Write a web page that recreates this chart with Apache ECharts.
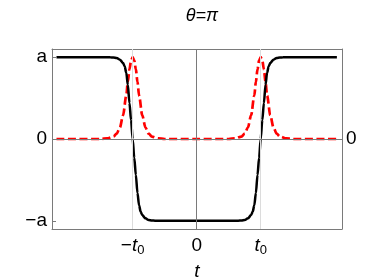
<!DOCTYPE html>
<html>
<head>
<meta charset="utf-8">
<script src="https://cdn.jsdelivr.net/npm/echarts@6/dist/echarts.min.js"></script>
<style>html,body{margin:0;padding:0;background:#fff}#c{width:382px;height:280px}</style>
</head>
<body>
<div id="c"></div>
<script>
// time samples (units of t0) and values (units of a)
var tBlack = [-2.19, -1.6, -1.35, -1.3, -1.25, -1.2, -1.15, -1.125, -1.1, -1.075, -1.05, -1.025, -1.0, -0.975, -0.95, -0.925, -0.9, -0.875, -0.85, -0.8, -0.75, -0.7, -0.65, -0.4, 0,
              0.4, 0.65, 0.7, 0.75, 0.8, 0.85, 0.875, 0.9, 0.925, 0.95, 0.975, 1.0, 1.025, 1.05, 1.075, 1.1, 1.125, 1.15, 1.2, 1.25, 1.3, 1.35, 1.6, 2.19];
var vBlack = [1, 1, 0.999, 0.996, 0.99, 0.97, 0.93, 0.89, 0.81, 0.66, 0.44, 0.23, 0, -0.23, -0.44, -0.66, -0.81, -0.89, -0.93, -0.97, -0.99, -0.996, -0.999, -1, -1,
              -1, -0.999, -0.996, -0.99, -0.97, -0.93, -0.89, -0.81, -0.66, -0.44, -0.23, 0, 0.23, 0.44, 0.66, 0.81, 0.89, 0.93, 0.97, 0.99, 0.996, 0.999, 1, 1];
var tRed = [-2.19, -1.5, -1.4, -1.3, -1.25, -1.2, -1.15, -1.1, -1.075, -1.05, -1.025, -1.0, -0.975, -0.95, -0.925, -0.9, -0.85, -0.8, -0.75, -0.7, -0.6, -0.5, 0,
            0.5, 0.6, 0.7, 0.75, 0.8, 0.85, 0.9, 0.925, 0.95, 0.975, 1.0, 1.025, 1.05, 1.075, 1.1, 1.15, 1.2, 1.25, 1.3, 1.4, 1.5, 2.19];
var vRed = [0, 0, 0.007, 0.03, 0.065, 0.14, 0.29, 0.53, 0.7, 0.85, 0.96, 1, 0.96, 0.85, 0.7, 0.53, 0.29, 0.14, 0.065, 0.03, 0.007, 0, 0,
            0, 0.007, 0.03, 0.065, 0.14, 0.29, 0.53, 0.7, 0.85, 0.96, 1, 0.96, 0.85, 0.7, 0.53, 0.29, 0.14, 0.065, 0.03, 0.007, 0, 0];
var xTicks = [-1, 0, 1];
var xTickLabels = ['{m|−}{i|t}{s|0}', '{n|0}', '{i|t}{s|0}'];
var yTicks = [-1, 0, 1];
var yTickLabels = ['−a', '0', 'a'];
var titleText = 'θ=π';
var xName = 't';

function pairs(t, v) { return t.map(function (x, i) { return [x, v[i]]; }); }

var FONT = 'Liberation Sans';
var frameColor = '#7a7a7a';
var chart = echarts.init(document.getElementById('c'), null, {renderer: 'canvas'});
chart.setOption({
  animation: false,
  title: {
    text: titleText, left: 197, top: 2, textAlign: 'center',
    textStyle: {fontFamily: FONT, fontSize: 18, fontStyle: 'italic', fontWeight: 'normal', color: '#000'}
  },
  grid: {left: 52, right: 40, top: 49, bottom: 51, containLabel: false, outerBoundsMode: 'none'},
  xAxis: [{
    type: 'value', position: 'bottom', min: -2.26, max: 2.27,
    axisLine: {show: true, onZero: false, lineStyle: {color: frameColor, width: 1}},
    axisTick: {show: true, inside: true, length: 4, customValues: xTicks, lineStyle: {color: frameColor}},
    splitLine: {show: false},
    axisLabel: {
      customValues: xTicks, margin: 6,
      formatter: function (v) { return xTickLabels[xTicks.indexOf(Math.round(v))]; },
      rich: {
        m: {fontFamily: FONT, fontSize: 19, color: '#000', lineHeight: 22},
        n: {fontFamily: FONT, fontSize: 19, color: '#000', lineHeight: 22},
        i: {fontFamily: FONT, fontSize: 19, fontStyle: 'italic', color: '#000', lineHeight: 22},
        s: {fontFamily: FONT, fontSize: 13, color: '#000', lineHeight: 13, verticalAlign: 'bottom'}
      }
    },
    name: xName, nameLocation: 'middle', nameGap: 30,
    nameTextStyle: {fontFamily: FONT, fontSize: 19, fontStyle: 'italic', color: '#000'}
  }, {
    type: 'value', position: 'top', min: -2.26, max: 2.27,
    axisLine: {show: true, onZero: false, lineStyle: {color: frameColor, width: 1}},
    axisTick: {show: false}, axisLabel: {show: false}, splitLine: {show: false}
  }],
  yAxis: [{
    type: 'value', position: 'left', min: -1.1, max: 1.1,
    axisLine: {show: true, onZero: false, lineStyle: {color: frameColor, width: 1}},
    axisTick: {show: true, inside: true, length: 4, customValues: yTicks, lineStyle: {color: frameColor}},
    splitLine: {show: false},
    axisLabel: {
      customValues: yTicks, margin: 5,
      formatter: function (v) { return yTickLabels[yTicks.indexOf(Math.round(v))]; },
      fontFamily: FONT, fontSize: 19, color: '#000'
    }
  }, {
    type: 'value', position: 'right', min: -1.1, max: 1.1,
    axisLine: {show: true, onZero: false, lineStyle: {color: frameColor, width: 1}},
    axisTick: {show: false}, splitLine: {show: false},
    axisLabel: {customValues: [0], margin: 4, formatter: function () { return '0'; },
      fontFamily: FONT, fontSize: 19, color: '#000'}
  }],
  series: [{
    type: 'line', data: [[0, 0]], showSymbol: false, symbol: 'none', lineStyle: {opacity: 0}, z: 1, silent: true,
    markLine: {
      silent: true, symbol: 'none', label: {show: false},
      data: [
        {xAxis: -1, lineStyle: {color: '#dcdcdc', width: 1, type: 'solid'}},
        {xAxis: 1, lineStyle: {color: '#dcdcdc', width: 1, type: 'solid'}},
        {xAxis: 0, lineStyle: {color: '#7a7a7a', width: 1, type: 'solid'}},
        {yAxis: 0, lineStyle: {color: '#7a7a7a', width: 1, type: 'solid'}}
      ]
    }
  }, {
    type: 'line', data: pairs(tRed, vRed), showSymbol: false, symbol: 'none',
    smooth: 0.3, smoothMonotone: 'x', z: 3,
    lineStyle: {color: '#ff0000', width: 2.7, type: [8, 3.5]}
  }, {
    type: 'line', data: pairs(tBlack, vBlack), showSymbol: false, symbol: 'none',
    smooth: 0.3, smoothMonotone: 'x', z: 4,
    lineStyle: {color: '#000000', width: 2.5}
  }]
});
</script>
</body>
</html>
